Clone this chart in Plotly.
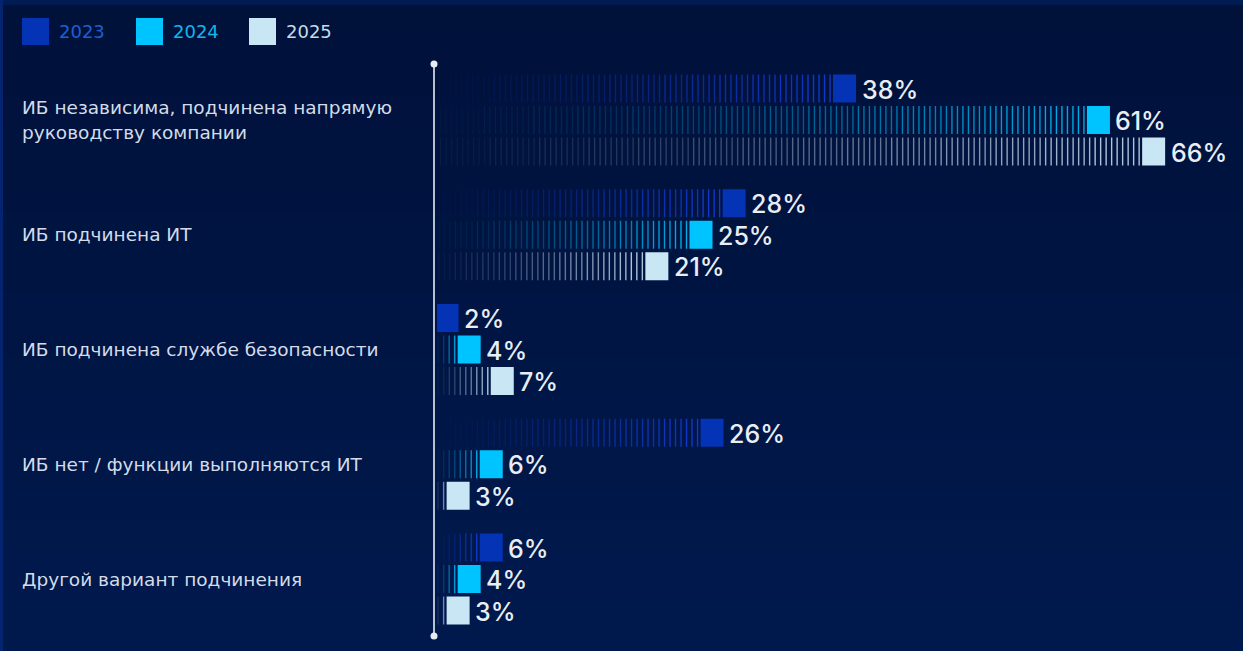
import plotly.graph_objects as go

# ---- data -------------------------------------------------------------
categories = [
    "ИБ независима, подчинена напрямую\nруководству компании",
    "ИБ подчинена ИТ",
    "ИБ подчинена службе безопасности",
    "ИБ нет / функции выполняются ИТ",
    "Другой вариант подчинения",
]
years = ["2023", "2024", "2025"]
values_2023 = [38, 28, 2, 26, 6]
values_2024 = [61, 25, 4, 6, 4]
values_2025 = [66, 21, 7, 3, 3]

# ---- styling ----------------------------------------------------------
W, H = 1243, 651
PX_PER_UNIT = 11.04          # horizontal pixels per percentage point
ZERO_PX = 436.5              # pixel column of the 0 % baseline
GROUP_PX = 114.75            # vertical pixels between category groups
FIRST_GROUP_PX = 120         # pixel row of the first group's centre

block_colors = ["#0533b6", "#00c4ff", "#c8e6f3"]
stripe_colors = [(18, 60, 215), (0, 185, 240), (190, 214, 234)]
legend_text_colors = ["#1f5fd0", "#12b6ea", "#c6dbe8"]
series = [values_2023, values_2024, values_2025]

BAR_OFFSET = 31.5 / GROUP_PX     # offset of each year's bar from group centre
BAR_H = 28 / GROUP_PX            # bar thickness (in group units)
BLOCK_W = 23 / PX_PER_UNIT       # solid end block width (in % units)
GAP = 3 / PX_PER_UNIT            # gap between stripes and block
STEP = 5.5 / PX_PER_UNIT         # stripe pitch
N_BUCKETS = 14                   # opacity levels for the fading stripes

x_range = [-ZERO_PX / PX_PER_UNIT, (W - ZERO_PX) / PX_PER_UNIT]
y_range = [(H - FIRST_GROUP_PX) / GROUP_PX, -FIRST_GROUP_PX / GROUP_PX]

fig = go.Figure()

# ---- fading striped bodies of the bars ---------------------------------
for si, vals in enumerate(series):
    buckets = [([], []) for _ in range(N_BUCKETS)]
    for gi, v in enumerate(vals):
        yc = gi + (si - 1) * BAR_OFFSET
        start = v - BLOCK_W
        if start <= 0:
            continue
        x = start - GAP
        while x > 0.1:
            frac = x / start
            b = min(N_BUCKETS - 1, int(frac * N_BUCKETS))
            xs, ys = buckets[b]
            xs += [x, x, None]
            ys += [yc - BAR_H / 2, yc + BAR_H / 2, None]
            x -= STEP
    r, g, bcol = stripe_colors[si]
    for b, (xs, ys) in enumerate(buckets):
        if not xs:
            continue
        alpha = 0.03 + 0.92 * ((b + 0.5) / N_BUCKETS) ** 1.3
        fig.add_trace(go.Scatter(
            x=xs, y=ys, mode="lines",
            line=dict(color=f"rgba({r},{g},{bcol},{alpha:.3f})", width=1.4),
            hoverinfo="skip", showlegend=False,
        ))

# ---- solid end blocks ----------------------------------------------------
for si, vals in enumerate(series):
    bases = [max(v - BLOCK_W, 0.05) for v in vals]
    fig.add_trace(go.Bar(
        orientation="h",
        y=[gi + (si - 1) * BAR_OFFSET for gi in range(len(vals))],
        x=[v - b for v, b in zip(vals, bases)],
        base=bases,
        width=BAR_H,
        marker=dict(color=block_colors[si], line=dict(width=0)),
        name=years[si], showlegend=False, hoverinfo="skip",
    ))

annotations = []
# value labels
for si, vals in enumerate(series):
    for gi, v in enumerate(vals):
        annotations.append(dict(
            x=v, y=gi + (si - 1) * BAR_OFFSET, xref="x", yref="y",
            text=f"{v}%", showarrow=False, xanchor="left", yanchor="middle",
            xshift=3.5, yshift=-1,
            font=dict(family="Inter", size=25, color="#e9eef5", weight=500),
        ))

# category labels (multi-line labels are laid out one line at a time)
for gi, cat in enumerate(categories):
    lines = cat.split("\n")
    n = len(lines)
    for li, line in enumerate(lines):
        annotations.append(dict(
            x=20 / W, y=gi, xref="paper", yref="y",
            text=line, showarrow=False, xanchor="left", yanchor="middle",
            yshift=((n - 1) / 2 - li) * 25,
            font=dict(family="DejaVu Sans", size=18.5, color="#d3dce8"),
        ))

# legend
legend_sq_x = [22, 136, 249]
for si, yr in enumerate(years):
    annotations.append(dict(
        x=(legend_sq_x[si] + 35) / W, y=1 - 31 / H, xref="paper", yref="paper",
        text=yr, showarrow=False, xanchor="left", yanchor="middle",
        font=dict(family="DejaVu Sans", size=18, color=legend_text_colors[si]),
    ))

shapes = []
# background: vertical gradient
top_rgb = (0, 17, 58)
bot_rgb = (0, 25, 77)
NB = 40
for i in range(NB):
    t = i / (NB - 1)
    c = tuple(int(round(a + (b - a) * t)) for a, b in zip(top_rgb, bot_rgb))
    shapes.append(dict(
        type="rect", xref="paper", yref="paper",
        x0=0, x1=1, y0=1 - (i + 1) / NB, y1=1 - i / NB + 0.001,
        fillcolor=f"rgb{c}", line=dict(width=0), layer="below",
    ))
# frame edges
shapes.append(dict(type="rect", xref="paper", yref="paper", x0=0, x1=1,
                   y0=1 - 5 / H, y1=1, fillcolor="#001a52",
                   line=dict(width=0), layer="below"))
shapes.append(dict(type="rect", xref="paper", yref="paper", x0=0, x1=3 / W,
                   y0=0, y1=1, fillcolor="#052470",
                   line=dict(width=0), layer="below"))

# legend swatches
for si in range(3):
    shapes.append(dict(
        type="rect", xref="paper", yref="paper",
        x0=legend_sq_x[si] / W, x1=(legend_sq_x[si] + 27) / W,
        y0=1 - 45 / H, y1=1 - 18 / H,
        fillcolor=block_colors[si], line=dict(width=0),
    ))

# baseline axis with end dots
axis_x = (434 - ZERO_PX) / PX_PER_UNIT
y_top = (64 - FIRST_GROUP_PX) / GROUP_PX
y_bot = (636 - FIRST_GROUP_PX) / GROUP_PX
fig.add_trace(go.Scatter(
    x=[axis_x, axis_x], y=[y_top, y_bot], mode="lines+markers",
    line=dict(color="#e6ecf3", width=1.6),
    marker=dict(color="#e6ecf3", size=7),
    hoverinfo="skip", showlegend=False,
))

fig.update_layout(
    width=W, height=H,
    margin=dict(l=0, r=0, t=0, b=0),
    paper_bgcolor="#001545",
    plot_bgcolor="rgba(0,0,0,0)",
    barmode="overlay",
    xaxis=dict(range=x_range, visible=False, fixedrange=True),
    yaxis=dict(range=y_range, visible=False, fixedrange=True),
    annotations=annotations,
    shapes=shapes,
    showlegend=False,
)

fig.write_html("out.html")
